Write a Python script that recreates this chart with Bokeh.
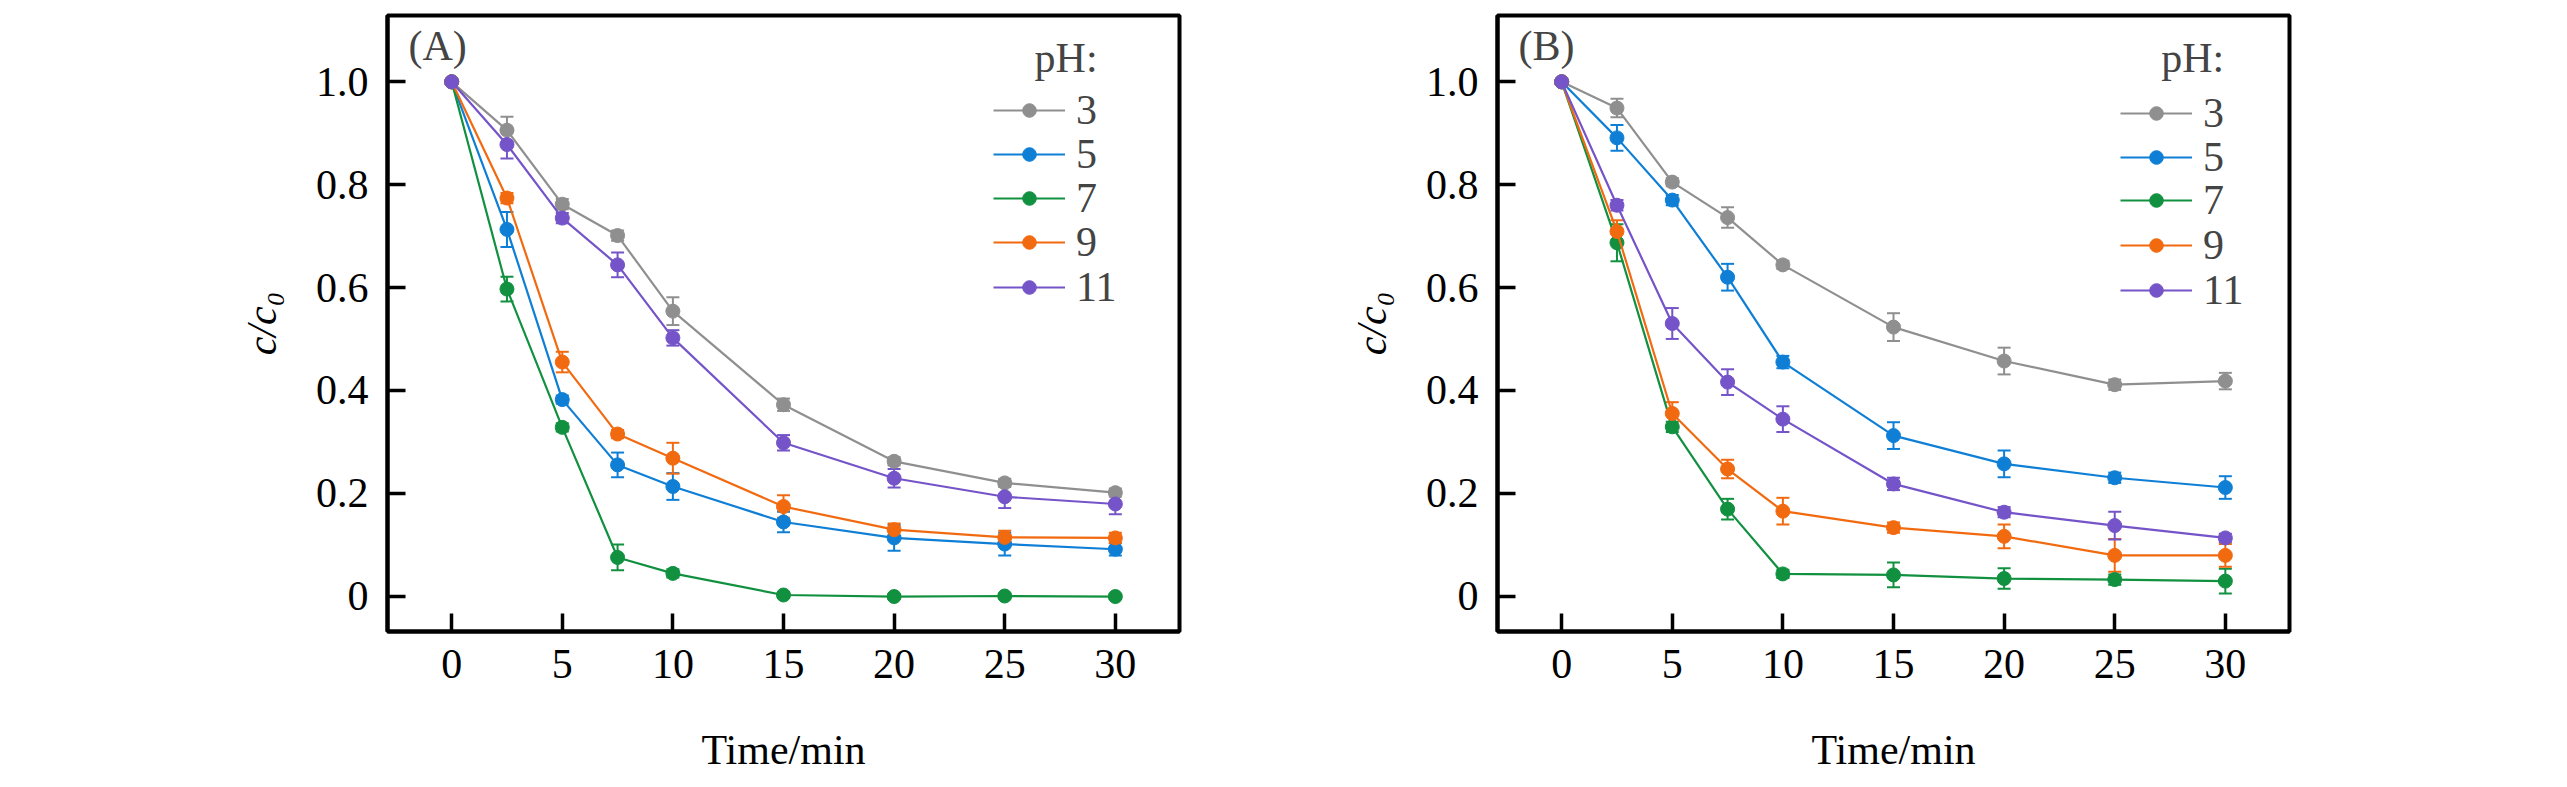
from bokeh.plotting import figure
from bokeh.layouts import row
from bokeh.models import (ColumnDataSource, Whisker, TeeHead, Legend, LegendItem, Label,
                          FixedTicker, CustomJSTickFormatter, Range1d)
from bokeh.embed import file_html
from bokeh.resources import INLINE

# ---------------- data ----------------
time_min = [0, 2.5, 5, 7.5, 10, 15, 20, 25, 30]
ph_labels = ["3", "5", "7", "9", "11"]
colors = ["#8f8f8f", "#0f7fd6", "#11913f", "#f26a10", "#7454c8"]

# Panel A
a_ph3 = [1.0, 0.906, 0.762, 0.701, 0.554, 0.372, 0.262, 0.220, 0.201]
a_ph5 = [1.0, 0.713, 0.382, 0.255, 0.213, 0.144, 0.113, 0.101, 0.091]
a_ph7 = [1.0, 0.597, 0.328, 0.075, 0.044, 0.002, -0.001, 0.0, -0.001]
a_ph9 = [1.0, 0.774, 0.455, 0.315, 0.268, 0.174, 0.129, 0.114, 0.113]
a_ph11 = [1.0, 0.878, 0.735, 0.644, 0.502, 0.298, 0.229, 0.193, 0.179]
a_err3 = [0, 0.026, 0.010, 0.010, 0.027, 0.012, 0.008, 0.008, 0.008]
a_err5 = [0, 0.034, 0.008, 0.024, 0.026, 0.020, 0.025, 0.022, 0.012]
a_err7 = [0, 0.024, 0.008, 0.025, 0.008, 0.005, 0.005, 0.005, 0.005]
a_err9 = [0, 0.010, 0.020, 0.008, 0.030, 0.022, 0.012, 0.013, 0.010]
a_err11 = [0, 0.027, 0.010, 0.024, 0.015, 0.015, 0.018, 0.022, 0.020]

# Panel B
b_ph3 = [1.0, 0.949, 0.805, 0.736, 0.644, 0.523, 0.457, 0.411, 0.418]
b_ph5 = [1.0, 0.891, 0.770, 0.620, 0.455, 0.312, 0.257, 0.230, 0.211]
b_ph7 = [1.0, 0.687, 0.329, 0.169, 0.043, 0.041, 0.034, 0.032, 0.029]
b_ph9 = [1.0, 0.709, 0.355, 0.247, 0.165, 0.133, 0.116, 0.079, 0.079]
b_ph11 = [1.0, 0.760, 0.530, 0.416, 0.344, 0.218, 0.163, 0.137, 0.113]
b_err3 = [0, 0.018, 0.008, 0.020, 0.008, 0.027, 0.026, 0.010, 0.016]
b_err5 = [0, 0.025, 0.010, 0.026, 0.012, 0.026, 0.026, 0.010, 0.022]
b_err7 = [0, 0.036, 0.010, 0.020, 0.008, 0.024, 0.020, 0.010, 0.024]
b_err9 = [0, 0.022, 0.022, 0.018, 0.026, 0.010, 0.023, 0.032, 0.022]
b_err11 = [0, 0.010, 0.030, 0.025, 0.025, 0.012, 0.010, 0.027, 0.008]

x_ticks = [0, 5, 10, 15, 20, 25, 30]
y_ticks = [0, 0.2, 0.4, 0.6, 0.8, 1.0]

FONT = "Liberation Serif"


def make_panel(series, errors, panel_label, ph_x, leg_x, leg_y, width, border_left, border_right):
    p = figure(width=width, height=775,
               x_range=Range1d(-2.9, 32.9), y_range=Range1d(-0.069, 1.129),
               output_backend="svg", toolbar_location=None,
               min_border_left=border_left, min_border_right=border_right,
               min_border_top=15, min_border_bottom=140)
    p.grid.visible = False
    p.outline_line_color = "black"
    p.outline_line_width = 4
    p.outline_line_alpha = 1.0
    p.background_fill_color = "white"

    for ax in (p.xaxis[0], p.yaxis[0]):
        ax.axis_line_width = 4
        ax.major_tick_in = 18
        ax.major_tick_out = 0
        ax.major_tick_line_width = 3.5
        ax.minor_tick_line_color = None
        ax.major_label_text_font = FONT
        ax.major_label_text_font_size = "42px"
        ax.major_label_text_color = "black"
        ax.axis_label_text_font = FONT
        ax.axis_label_text_font_size = "42px"
        ax.axis_label_text_color = "black"

    p.xaxis.ticker = FixedTicker(ticks=x_ticks)
    p.yaxis.ticker = FixedTicker(ticks=y_ticks)
    p.yaxis.formatter = CustomJSTickFormatter(code="return tick == 0 ? '0' : tick.toFixed(1);")
    p.xaxis.axis_label = "Time/min"
    p.xaxis.axis_label_text_font_style = "normal"
    p.yaxis.axis_label = "c/c\u2080"
    p.yaxis.axis_label_text_font_style = "italic"
    p.xaxis.major_label_standoff = 18
    p.xaxis.axis_label_standoff = 46
    p.yaxis.major_label_standoff = 19
    p.yaxis.axis_label_standoff = 28

    items = []
    for vals, errs, col, lab in zip(series, errors, colors, ph_labels):
        src = ColumnDataSource(dict(
            t=time_min, v=vals,
            up=[v + e for v, e in zip(vals, errs)],
            lo=[v - e for v, e in zip(vals, errs)]))
        w = Whisker(source=src, base="t", upper="up", lower="lo",
                    line_color=col, line_width=2, level="underlay",
                    upper_head=TeeHead(size=13, line_color=col, line_width=2),
                    lower_head=TeeHead(size=13, line_color=col, line_width=2))
        p.add_layout(w)
        lr = p.line("t", "v", source=src, line_color=col, line_width=2.2)
        sr = p.scatter("t", "v", source=src, size=14, fill_color=col,
                       line_color=col, line_width=1)
        items.append(LegendItem(label=lab, renderers=[lr, sr]))

    # one legend box per entry so the row pitch matches the reference
    for item, ly in zip(items, leg_y):
        legend = Legend(items=[item], location=(leg_x, ly),
                        glyph_width=72, glyph_height=34, label_standoff=11,
                        label_text_font=FONT, label_text_font_size="42px",
                        padding=0, spacing=0, margin=0,
                        border_line_alpha=0, background_fill_alpha=0)
        p.add_layout(legend)

    p.add_layout(Label(x=-1.95, y=1.07, text=panel_label, text_font=FONT,
                       text_font_size="42px", text_baseline="middle", text_align="left"))
    p.add_layout(Label(x=ph_x, y=1.046, text="pH:", text_font=FONT,
                       text_font_size="42px", text_baseline="middle", text_align="left"))
    return p


pa = make_panel([a_ph3, a_ph5, a_ph7, a_ph9, a_ph11],
                [a_err3, a_err5, a_err7, a_err9, a_err11],
                "(A)", 26.35, 606, [497, 453, 409, 365, 320], 1219, 387, 40)
pb = make_panel([b_ph3, b_ph5, b_ph7, b_ph9, b_ph11],
                [b_err3, b_err5, b_err7, b_err9, b_err11],
                "(B)", 27.1, 623, [494, 450, 407, 362, 317], 1320, 278, 250)

layout = row(pa, pb, spacing=0)
open("out.html", "w").write(file_html(layout, INLINE))
